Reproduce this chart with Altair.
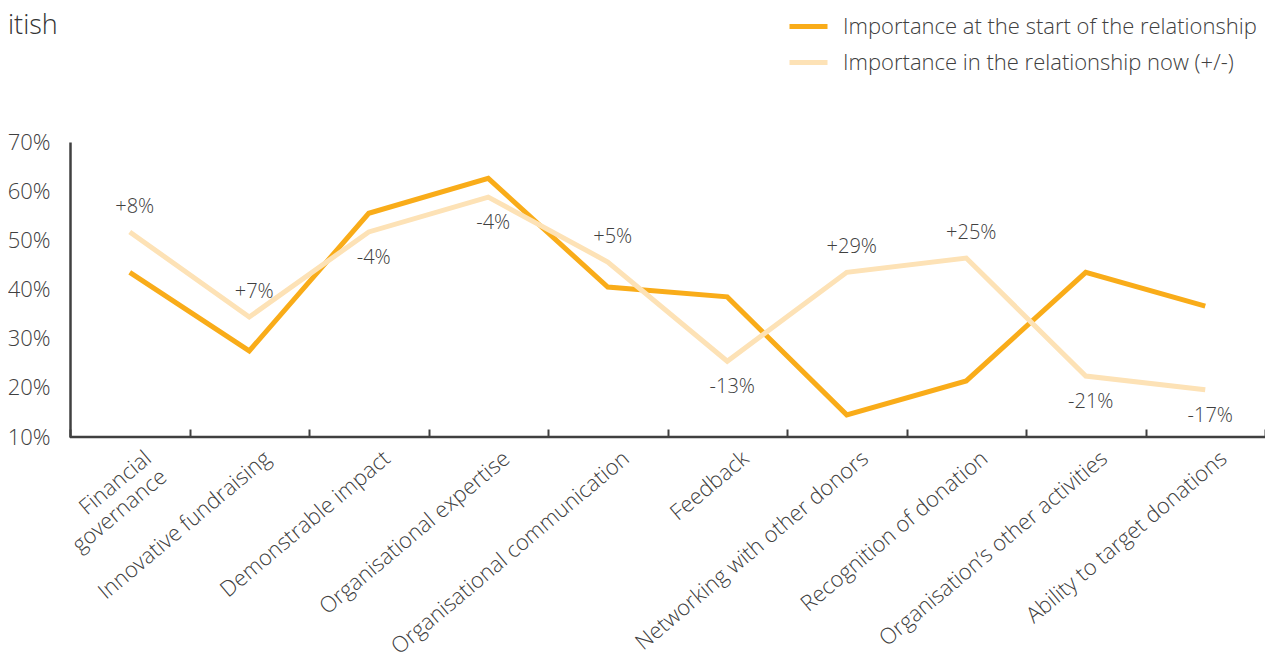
import altair as alt
import pandas as pd

categories = [
    "Financial governance",
    "Innovative fundraising",
    "Demonstrable impact",
    "Organisational expertise",
    "Organisational communication",
    "Feedback",
    "Networking with other donors",
    "Recognition of donation",
    "Organisation\u2019s other activities",
    "Ability to target donations",
]
series_names = [
    "Importance at the start of the relationship",
    "Importance in the relationship now (+/-)",
]
start_values = [43.5, 27.5, 55.5, 62.6, 40.5, 38.5, 14.5, 21.4, 43.5, 36.6]
now_values = [51.7, 34.4, 51.7, 58.8, 45.6, 25.4, 43.5, 46.4, 22.4, 19.6]
change_labels = ["+8%", "+7%", "-4%", "-4%", "+5%", "-13%", "+29%", "+25%", "-21%", "-17%"]
y_ticks = [10, 20, 30, 40, 50, 60, 70]
title_text = "itish"

DARK = "#F9AC19"
LIGHT = "#FDE2B6"
TEXT = "#404040"
FONT = "Open Sans"
W = 300

rows = []
for c, s, n in zip(categories, start_values, now_values):
    rows.append({"category": c, "series": series_names[0], "value": s})
    rows.append({"category": c, "series": series_names[1], "value": n})
df = pd.DataFrame(rows)

lab = pd.DataFrame({"category": categories, "value": now_values, "label": change_labels})
lab["positive"] = lab["label"].str.startswith("+")

x_enc = alt.X(
    "category:N",
    sort=categories,
    scale=alt.Scale(paddingInner=0, paddingOuter=0),
    axis=alt.Axis(
        title=None,
        domain=False,
        offset=-8,
        ticks=True,
        tickBand="extent",
        tickSize=8,
        tickWidth=2,
        tickColor=TEXT,
        labelAngle=-40,
        labelAlign="right",
        labelBaseline="middle",
        labelPadding=18,
        labelOffset=18,
        labelFontSize=22,
        labelFontWeight=W,
        labelColor=TEXT,
        labelFont=FONT,
        labelLimit=0,
        labelLineHeight=24,
        labelExpr="datum.label == 'Financial governance' ? ['Financial', 'governance'] : datum.label",
    ),
)
y_scale = alt.Scale(domain=[10, 70], nice=False, zero=False)
y_enc = alt.Y(
    "value:Q",
    scale=y_scale,
    axis=alt.Axis(
        title=None,
        values=y_ticks,
        labelExpr="datum.value + '%'",
        grid=False,
        ticks=False,
        domain=True,
        domainColor=TEXT,
        domainWidth=2.5,
        labelPadding=20,
        labelFontSize=22,
        labelFontWeight=W,
        labelColor=TEXT,
        labelFont=FONT,
    ),
)

lines = alt.Chart(df).mark_line(strokeWidth=5, strokeJoin="miter").encode(
    x=x_enc,
    y=y_enc,
    color=alt.Color(
        "series:N",
        sort=series_names,
        scale=alt.Scale(domain=series_names, range=[DARK, LIGHT]),
        legend=alt.Legend(
            title=None,
            orient="none",
            legendX=717,
            legendY=-137,
            symbolType="stroke",
            symbolSize=1444,
            symbolStrokeWidth=5,
            labelFontSize=22,
            labelFontWeight=W,
            labelColor=TEXT,
            labelFont=FONT,
            labelLimit=0,
            labelOffset=13,
            rowPadding=3,
            padding=0,
        ),
    ),
    order=alt.Order("series:N", sort="descending"),
)

pos_labels = alt.Chart(lab).transform_filter("datum.positive").mark_text(
    dy=-25, dx=5, fontSize=20, fontWeight=W, color=TEXT, font=FONT
).encode(x=alt.X("category:N", sort=categories), y=alt.Y("value:Q"), text="label:N")

neg_labels = alt.Chart(lab).transform_filter("!datum.positive").mark_text(
    dy=26, dx=5, fontSize=20, fontWeight=W, color=TEXT, font=FONT
).encode(x=alt.X("category:N", sort=categories), y=alt.Y("value:Q"), text="label:N")

axis_line = alt.Chart(pd.DataFrame({"value": [y_ticks[0]]})).mark_rule(
    color=TEXT, strokeWidth=2.5
).encode(y=alt.Y("value:Q"))

title_mark = alt.Chart(pd.DataFrame({"t": [title_text]})).mark_text(
    align="left", baseline="middle", fontSize=27, fontWeight=W, color="#333333", font=FONT
).encode(x=alt.value(-62), y=alt.value(-116), text="t:N")

chart = (
    alt.layer(lines, pos_labels, neg_labels, axis_line, title_mark)
    .properties(
        width=1195,
        height=295,
        autosize=alt.AutoSizeParams(type="none"),
        padding={"left": 62, "top": 134, "right": 0, "bottom": 216},
    )
    .configure_view(stroke=None)
)

chart.save("out.html", embed_options={"renderer": "svg", "actions": False})
